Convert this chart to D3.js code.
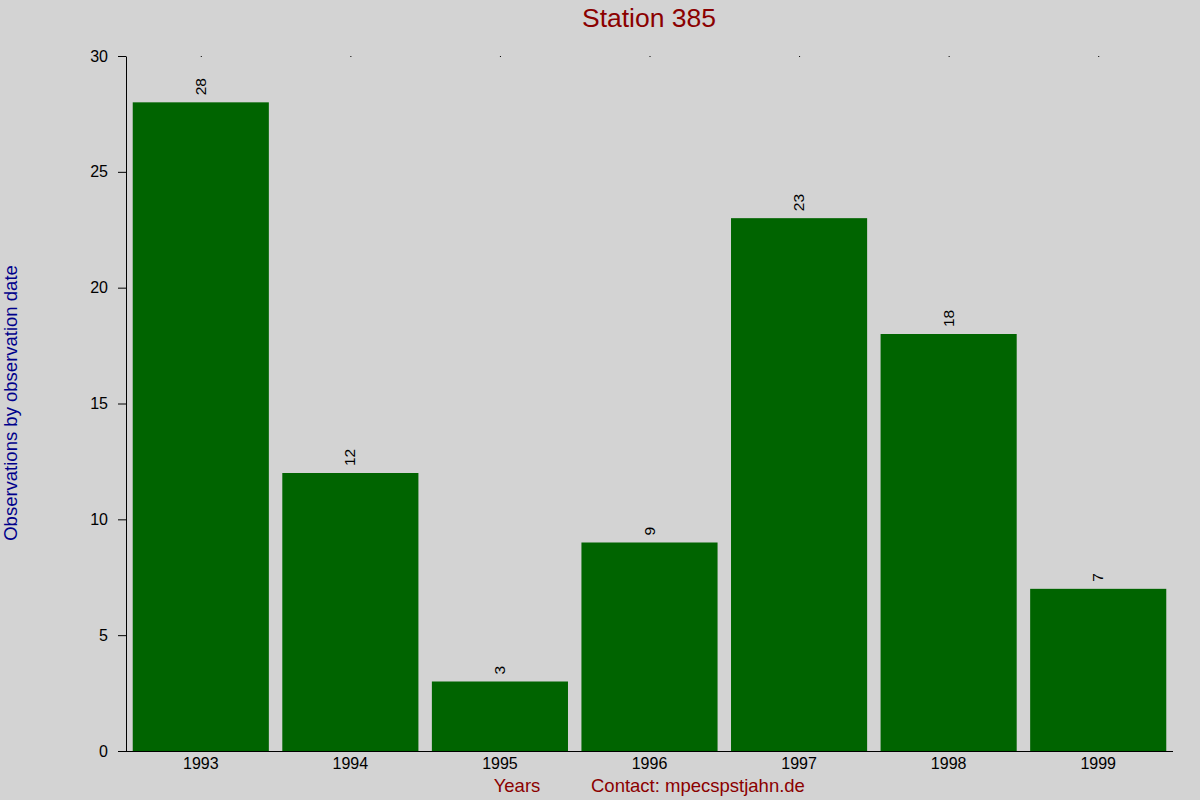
<!DOCTYPE html>
<html>
<head>
<meta charset="utf-8">
<script src="https://cdn.jsdelivr.net/npm/d3@7/dist/d3.min.js"></script>
<style>
  body { margin: 0; background: #d3d3d3; }
  svg { display: block; font-family: "Liberation Sans", Arial, sans-serif; }
</style>
</head>
<body>
<svg id="chart" width="1200" height="800"></svg>
<script>
const years = ['1993', '1994', '1995', '1996', '1997', '1998', '1999'];
const counts = [28, 12, 3, 9, 23, 18, 7];
const yTicks = [0, 5, 10, 15, 20, 25, 30];

const chart = d3.select('#chart');
const width = +chart.attr('width');
const height = +chart.attr('height');
const font = '"Liberation Sans", Arial, sans-serif';

chart.append('rect').attr('width', width).attr('height', height).attr('fill', '#d3d3d3');

const x = d3.scaleBand().domain(years).range([126, 1173]).paddingInner(0.09).paddingOuter(0.045);
const y = d3.scaleLinear().domain([0, 30]).range([751, 56]);

// bars
chart.append('g').selectAll('rect')
  .data(counts)
  .join('rect')
  .attr('x', (d, i) => x(years[i]))
  .attr('y', d => y(d))
  .attr('width', x.bandwidth())
  .attr('height', d => y(0) - y(d))
  .attr('fill', '#006400');

// value labels, rotated, above the bars
chart.append('g').selectAll('text')
  .data(counts)
  .join('text')
  .attr('transform', (d, i) => `translate(${x(years[i]) + x.bandwidth() / 2 + 5}, ${y(d) - 7}) rotate(-90)`)
  .attr('font-size', 15.5)
  .attr('fill', '#000')
  .text(d => d);

// y axis
const yAxis = d3.axisLeft(y).tickValues(yTicks).tickSize(8).tickSizeOuter(0);
const gy = chart.append('g').attr('transform', 'translate(126,0)').call(yAxis);
gy.selectAll('.tick text').attr('font-size', 16).attr('font-family', font).attr('x', -18);

// x axis
const xAxis = d3.axisBottom(x).tickSize(0).tickSizeOuter(0);
const gx = chart.append('g').attr('transform', 'translate(0,751)').call(xAxis);
gx.select('.domain').attr('d', 'M118,0.5H1173');
gx.selectAll('.tick text').attr('font-size', 16).attr('font-family', font).attr('dy', '0.95em');

// small marks on top at each category
chart.append('g').selectAll('rect')
  .data(years)
  .join('rect')
  .attr('x', d => x(d) + x.bandwidth() / 2)
  .attr('y', y(30))
  .attr('width', 1)
  .attr('height', 1)
  .attr('fill', '#000');

// title and axis labels
chart.append('text')
  .attr('x', 649).attr('y', 27)
  .attr('text-anchor', 'middle')
  .attr('font-size', 26.5)
  .attr('fill', '#8b0000')
  .text('Station 385');

chart.append('text')
  .attr('transform', 'translate(17,403) rotate(-90)')
  .attr('text-anchor', 'middle')
  .attr('font-size', 18.5)
  .attr('fill', '#00008b')
  .text('Observations by observation date');

chart.append('text')
  .attr('x', 517).attr('y', 792)
  .attr('text-anchor', 'middle')
  .attr('font-size', 18.5)
  .attr('fill', '#8b0000')
  .text('Years');

chart.append('text')
  .attr('x', 591).attr('y', 792)
  .attr('font-size', 18.5)
  .attr('fill', '#8b0000')
  .text('Contact: mpecspstjahn.de');
</script>
</body>
</html>
